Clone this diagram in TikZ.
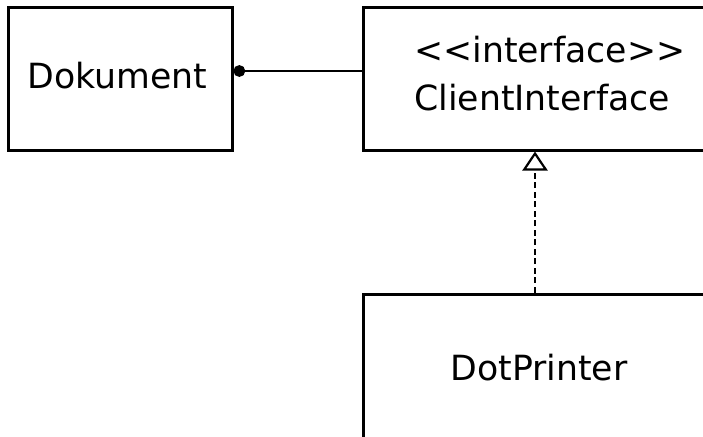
\documentclass[tikz,border=0pt]{standalone}
\usepackage{fontspec}
\setmainfont{DejaVu Sans}
\usetikzlibrary{arrows.meta}
\begin{document}
\begin{tikzpicture}[x=1pt,y=-1pt,
  box/.style={draw=black,line width=3pt,rectangle,inner sep=0pt},
  lbl/.style={inner sep=0pt,font=\fontsize{34.7}{40}\selectfont},
  assoc/.style={line width=2.5pt,{Circle[length=11.7pt,width=11.7pt]}-},
  realize/.style={line width=2.2pt,dash pattern=on 6pt off 3.5pt,-{Triangle[open,length=19pt,width=25pt,line width=2.2pt]}}]
\useasboundingbox (0,0) rectangle (703,436);
\node[box,minimum width=224pt,minimum height=142pt] (dok) at (120,79) {};
\node[box,minimum width=400pt,minimum height=142pt] (ci) at (563,79) {};
\node[box,minimum width=400pt,minimum height=206pt] (dp) at (563,397) {};
\node[lbl,anchor=base] (tdok) at (117.5,88) {Dokument};
\node[lbl,anchor=base west] (tst) at (414,63) {{<}{<}interface{>}{>}};
\node[lbl,anchor=base west] (tci) at (414,110) {ClientInterface};
\node[lbl,anchor=base] (tdp) at (539,380) {DotPrinter};
\draw[assoc] ([yshift=8pt]dok.east) -- ([yshift=8pt]ci.west);
\draw[realize] ([xshift=-28pt]dp.north) -- ([xshift=-28pt]ci.south);
\end{tikzpicture}
\end{document}
